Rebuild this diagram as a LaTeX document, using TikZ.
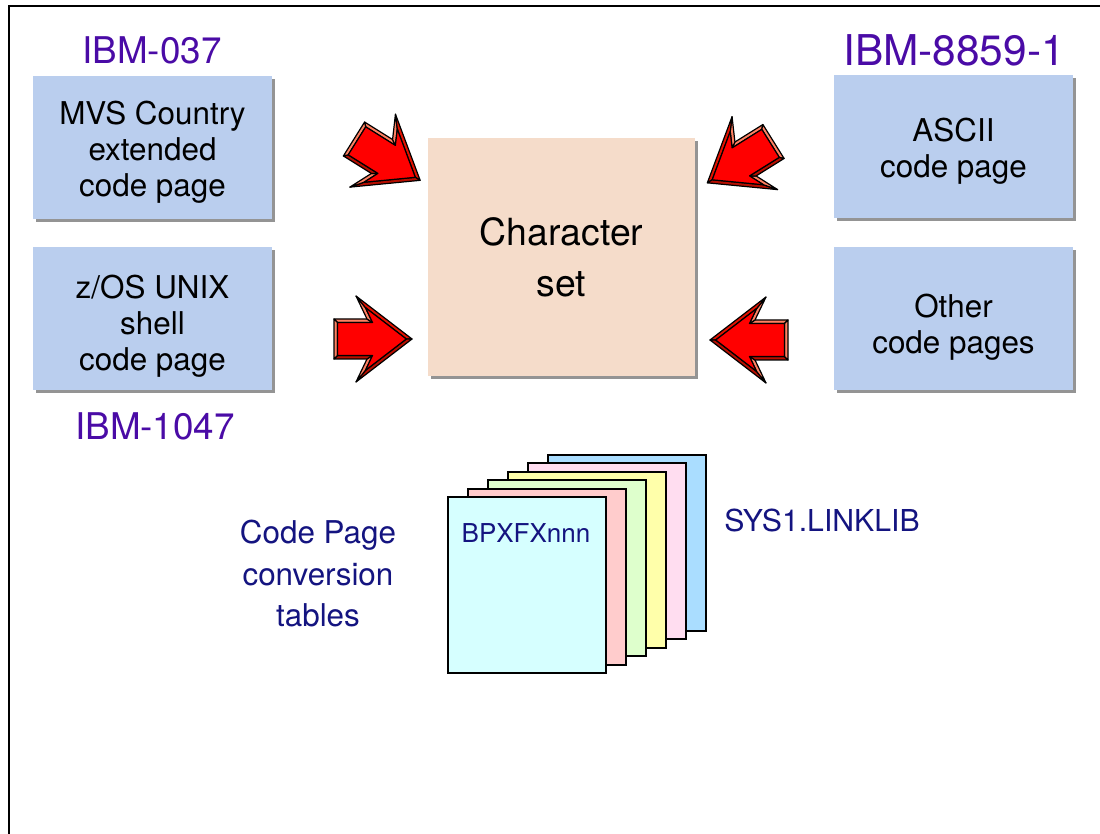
\documentclass[tikz,border=0pt]{standalone}
\usepackage{fontspec}
\setmainfont{TeX Gyre Heros}
\usetikzlibrary{shadows}

\definecolor{cpBlue}{HTML}{BACEEE}
\definecolor{csPeach}{HTML}{F5DCCA}
\definecolor{ibmViolet}{HTML}{4A0BA6}
\definecolor{noteNavy}{HTML}{141480}
\definecolor{arRed}{HTML}{FF0000}
\definecolor{arSalmon}{HTML}{FF8062}
\definecolor{arMid}{HTML}{E41200}
\definecolor{arDark}{HTML}{B80E00}
\definecolor{pgCyan}{HTML}{D6FFFF}
\definecolor{pgRose}{HTML}{FFCCCC}
\definecolor{pgGreen}{HTML}{DEFFCC}
\definecolor{pgYellow}{HTML}{FFFFAA}
\definecolor{pgPink}{HTML}{FFDDF0}
\definecolor{pgSky}{HTML}{AADDFF}

\begin{document}
\begin{tikzpicture}[x=0.5pt,y=-0.5pt,
  cpbox/.style={fill=cpBlue,minimum width=119.5pt,minimum height=71.5pt,
    drop shadow={shadow xshift=1.5pt,shadow yshift=-1.5pt,fill=black!60,opacity=.7}},
  cptext/.style={align=center,font=\fontsize{15.7}{18}\selectfont},
  csbox/.style={cpbox,fill=csPeach,minimum width=133.5pt,minimum height=119pt,align=center,
    font=\fontsize{18.7}{25.5}\selectfont},
  ibm/.style={text=ibmViolet,font=\fontsize{18.4}{22}\selectfont},
  note/.style={text=noteNavy,align=center,font=\fontsize{15.7}{20.75}\selectfont},
  page/.style={draw,line width=1pt,anchor=north west,minimum width=79pt,minimum height=88pt},
  face/.style={draw,line width=.6pt,line join=round}
]
\useasboundingbox (0,0) rectangle (1100,834);
\draw[line width=1pt] (9,834) -- (9,6) -- (1100,6);

% code pages around the character set
\node[cpbox] (mvs) at (152.5,147.5) {};
\node[cpbox] (zos) at (152.5,319) {};
\node[cpbox] (ascii) at (953.5,147) {};
\node[cpbox] (other) at (953.5,319) {};
\node[cptext] at ([yshift=-2.5pt]mvs.center) {MVS Country\\extended\\code page};
\node[cptext] at ([yshift=-3.5pt]zos.center) {z/OS UNIX\\shell\\code page};
\node[cptext] at ([yshift=-2pt]ascii.center) {ASCII\\code page};
\node[cptext] at ([yshift=-4pt]other.center) {Other\\code pages};
\node[csbox] (charset) at (561.5,257) {Character\\set};

\node[ibm] (lbl037) at (152,50) {IBM-037};
\node[ibm,font=\fontsize{21.2}{25}\selectfont] (lbl8859) at (954,50) {IBM-8859-1};
\node[ibm] (lbl1047) at (155,426) {IBM-1047};

% bevelled block arrows pointing at the character set
\foreach \px/\py/\r/\s in {354/139/-32/1,773.5/141.5/32/-1,334/339/0/1,788/340/0/-1}{
  \begin{scope}[shift={(\px,\py)},rotate=\r,xscale=\s,yscale=-1]
    \coordinate (o1) at (0,20);      \coordinate (i1) at (3.5,16.5);
    \coordinate (o2) at (33,20);     \coordinate (i2) at (38.5,16.5);
    \coordinate (o3) at (22,43);     \coordinate (i3) at (31.4,31.4);
    \coordinate (o4) at (78,0);      \coordinate (i4) at (72.3,0);
    \coordinate (o5) at (22,-43);    \coordinate (i5) at (31.4,-31.4);
    \coordinate (o6) at (33,-20);    \coordinate (i6) at (38.5,-16.5);
    \coordinate (o7) at (0,-20);     \coordinate (i7) at (3.5,-16.5);
    \foreach \a/\b/\c in {1/2/arSalmon,2/3/arSalmon,3/4/arMid,4/5/arDark,5/6/arSalmon,6/7/arDark,7/1/arSalmon}
      \filldraw[face,fill=\c] (o\a) -- (o\b) -- (i\b) -- (i\a) -- cycle;
    \filldraw[face,fill=arRed] (i1) -- (i2) -- (i3) -- (i4) -- (i5) -- (i6) -- (i7) -- cycle;
  \end{scope}
}

% stack of conversion tables
\foreach \i/\col in {5/pgSky,4/pgPink,3/pgYellow,2/pgGreen,1/pgRose,0/pgCyan}
  \node[page,fill=\col] (page\i) at (447+20*\i,496-8.4*\i) {};
\node[text=noteNavy,font=\fontsize{13}{15}\selectfont] (bpx) at (526,533) {BPXFXnnn};
\node[note] (cpnote) at (318,574) {Code Page\\conversion\\tables};
\node[note,font=\fontsize{15.1}{18}\selectfont] (linklib) at (822,520) {SYS1.LINKLIB};
\end{tikzpicture}
\end{document}
